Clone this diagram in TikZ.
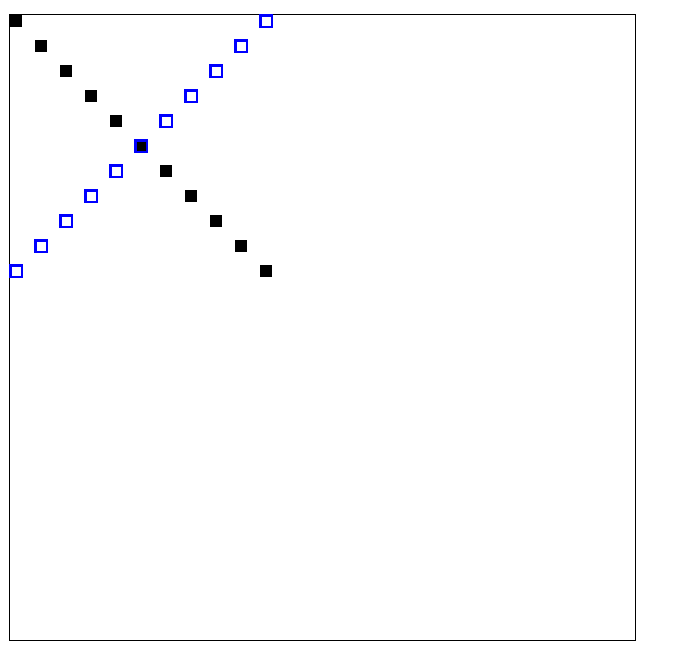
\documentclass[tikz,border=0pt]{standalone}
\usepackage{tikz}

\begin{document}
\begin{tikzpicture}[x=1pt, y=-1pt]
    \tikzstyle{diagpt} = [rectangle, fill=black, inner sep=0pt, minimum size=12.5pt]
    \tikzstyle{antipt} = [rectangle, draw=blue, line width=2.5pt, inner sep=0pt, minimum size=11.5pt]
    \useasboundingbox (0,0) rectangle (680,648);
    \draw[black, line width=1pt] (9.5,14.5) rectangle (635.5,640.5);
    \node[diagpt] (d0) at (16, 21) {}; \node[diagpt] (d1) at (41, 46) {};
    \node[diagpt] (d2) at (66, 71) {}; \node[diagpt] (d3) at (91, 96) {};
    \node[diagpt] (d4) at (116, 121) {}; \node[diagpt] (d5) at (141, 146) {};
    \node[diagpt] (d6) at (166, 171) {}; \node[diagpt] (d7) at (191, 196) {};
    \node[diagpt] (d8) at (216, 221) {}; \node[diagpt] (d9) at (241, 246) {};
    \node[diagpt] (d10) at (266, 271) {};
    \node[antipt] (a0) at (16, 271) {}; \node[antipt] (a1) at (41, 246) {};
    \node[antipt] (a2) at (66, 221) {}; \node[antipt] (a3) at (91, 196) {};
    \node[antipt] (a4) at (116, 171) {}; \node[antipt] (a5) at (141, 146) {};
    \node[antipt] (a6) at (166, 121) {}; \node[antipt] (a7) at (191, 96) {};
    \node[antipt] (a8) at (216, 71) {}; \node[antipt] (a9) at (241, 46) {};
    \node[antipt] (a10) at (266, 21) {};
\end{tikzpicture}
\end{document}
